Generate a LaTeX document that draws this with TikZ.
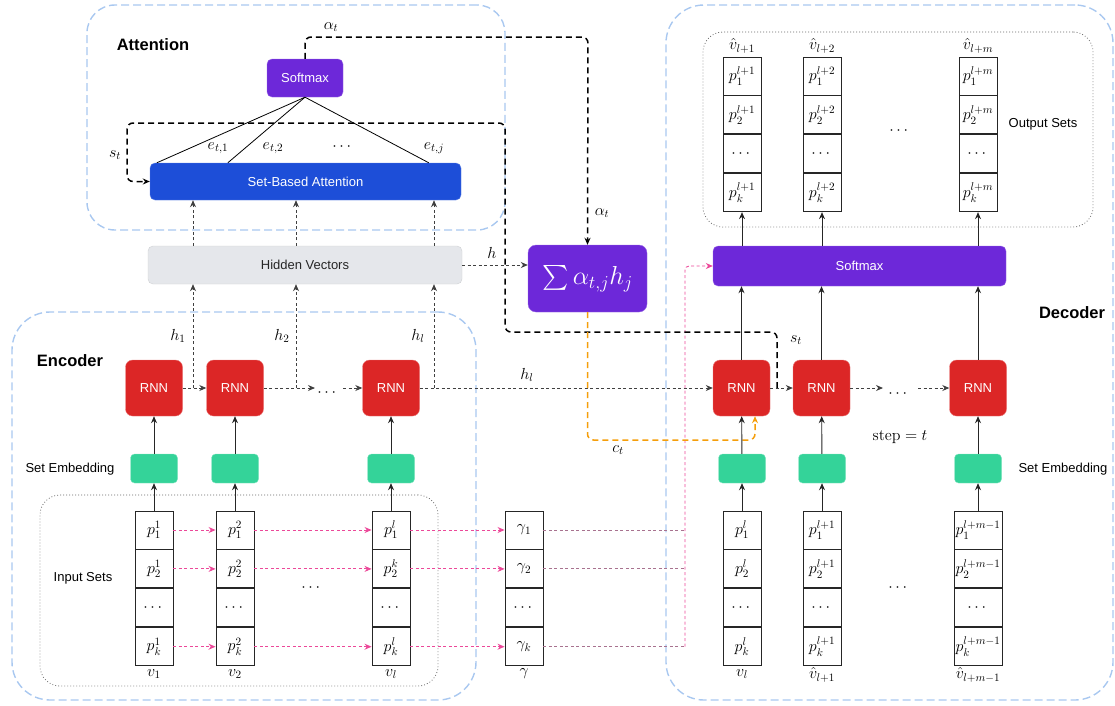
\RequirePackage{fix-cm}
\documentclass[tikz,border=0pt]{standalone}
\usepackage{amsmath}
\usepackage[no-math]{fontspec}
\newfontfamily\arial{Liberation Sans}
\usetikzlibrary{arrows.meta,calc}

\definecolor{smpurple}{HTML}{6D28D9}
\definecolor{sbablue}{HTML}{1D4ED8}
\definecolor{hvgray}{HTML}{E5E7EB}
\definecolor{rnnred}{HTML}{DC2626}
\definecolor{embgreen}{HTML}{34D399}
\definecolor{grpblue}{HTML}{A9C8F0}
\definecolor{pinkc}{HTML}{EC4899}
\definecolor{mauvec}{HTML}{A8728F}
\definecolor{orangec}{HTML}{F59E0B}

\newcommand\setcolumn[7]{%
  \node[cell, minimum width=#4] (#1-1) at (#2,#3) {$#5$};
  \node[cell, minimum width=#4, anchor=north] (#1-2) at (#1-1.south) {$#6$};
  \node[cell, minimum width=#4, anchor=north] (#1-3) at (#1-2.south) {$\cdots$};
  \node[cell, minimum width=#4, anchor=north] (#1-4) at (#1-3.south) {$#7$};
}

\tikzset{
  lbl/.style={font=\arial\fontsize{13}{15}\selectfont, text=black, inner sep=1pt},
  ttl/.style={font=\arial\bfseries\fontsize{16.5}{19}\selectfont, inner sep=1pt},
  mth/.style={font=\fontsize{16}{18}\selectfont, inner sep=1pt},
  boxbase/.style={rounded corners=5pt, inner sep=0pt, font=\arial\fontsize{13}{15}\selectfont},
  purplebox/.style={boxbase, fill=smpurple, draw=smpurple!70!white, text=white},
  sbabox/.style={boxbase, fill=sbablue, draw=sbablue!70!white, text=white},
  hvbox/.style={boxbase, fill=hvgray, draw=hvgray!90!black, text=black!85},
  rnnbox/.style={boxbase, rounded corners=7pt, fill=rnnred, draw=rnnred!60!white, text=white, minimum width=57pt, minimum height=56pt},
  embbox/.style={boxbase, rounded corners=4pt, fill=embgreen, draw=embgreen!60!white, minimum width=47pt, minimum height=29pt},
  cell/.style={draw=black!85, line width=0.9pt, minimum height=38pt, inner sep=0pt, font=\fontsize{16}{18}\selectfont},
  grp/.style={draw=grpblue, line width=1.4pt, dash pattern=on 8pt off 4pt, rounded corners=38pt, inner sep=0pt},
  setgrp/.style={draw=black!60, line width=0.8pt, dash pattern=on 0.8pt off 2.2pt, rounded corners=20pt, inner sep=0pt},
  tip/.style={-{Stealth[length=7pt,width=6pt]}},
  arr/.style={draw=black!85, line width=0.9pt, tip},
  darr/.style={draw=black!75, line width=0.9pt, dash pattern=on 3pt off 2.5pt, tip},
  bdash/.style={draw=black, line width=1.5pt, dash pattern=on 6pt off 4pt, rounded corners=6pt},
  parr/.style={draw=pinkc, line width=0.9pt, dash pattern=on 3pt off 2.5pt, tip},
  gline/.style={draw=mauvec, line width=0.9pt, dash pattern=on 3pt off 2.5pt},
  odash/.style={draw=orangec, line width=1.5pt, dash pattern=on 6pt off 4pt, rounded corners=6pt},
  eline/.style={draw=black, line width=0.8pt},
}

\begin{document}
\begin{tikzpicture}[x=1pt,y=-1pt]
\useasboundingbox (0,0) rectangle (1115,705);

% group boxes
\node[grp, minimum width=418pt, minimum height=225pt, rounded corners=28pt] (attgrp) at (296,117.5) {};
\node[grp, minimum width=464pt, minimum height=388pt] (encgrp) at (244,506) {};
\node[grp, minimum width=447pt, minimum height=695pt] (decgrp) at (889.5,352.5) {};
\node[setgrp, minimum width=398pt, minimum height=191pt] (insets) at (239,590.5) {};
\node[setgrp, minimum width=390pt, minimum height=195pt] (outsets) at (898,129.5) {};

% titles and labels
\node[ttl] (atttitle) at (153,45) {Attention};
\node[ttl] (enctitle) at (70,361) {Encoder};
\node[ttl] (dectitle) at (1072,313) {Decoder};
\node[lbl] (inlbl) at (83,578) {Input Sets};
\node[lbl] (outlbl) at (1043,124) {Output Sets};
\node[lbl] (embl1) at (70,469) {Set Embedding};
\node[lbl] (embl2) at (1063,469) {Set Embedding};

% main boxes
\node[purplebox, minimum width=76pt, minimum height=38pt] (smx) at (305,78) {Softmax};
\node[sbabox, minimum width=311pt, minimum height=37pt] (sba) at (305.5,181.5) {Set-Based Attention};
\node[hvbox, minimum width=314pt, minimum height=38pt] (hv) at (305,265) {Hidden Vectors};
\node[purplebox, rounded corners=8pt, minimum width=119pt, minimum height=67pt, font=\fontsize{26}{30}\selectfont] (sum) at (587.5,278.5) {$\sum \alpha_{t,j} h_j$};
\node[purplebox, minimum width=293pt, minimum height=40pt] (dsm) at (859.5,266) {Softmax};

% encoder
\node[rnnbox] (er1) at (154,388) {RNN};
\node[rnnbox] (er2) at (235,388) {RNN};
\node[rnnbox] (er3) at (391,388) {RNN};
\node[embbox] (ee1) at (154,468.5) {};
\node[embbox] (ee2) at (235,468.5) {};
\node[embbox] (ee3) at (391,468.5) {};
\setcolumn{ic1}{154}{530}{38pt}{p_1^1}{p_2^1}{p_k^1}
\setcolumn{ic2}{235}{530}{38pt}{p_1^2}{p_2^2}{p_k^2}
\setcolumn{ic3}{391}{530}{38pt}{p_1^l}{p_2^k}{p_k^l}
\setcolumn{g}{524}{530}{38pt}{\gamma_1}{\gamma_2}{\gamma_k}
\node[mth] (v1l) at (154,674) {$v_1$};
\node[mth] (v2l) at (235,674) {$v_2$};
\node[mth] (vll) at (391,674) {$v_l$};
\node[mth] (gl) at (524,674) {$\gamma$};
\node[mth] (edots) at (312,588) {$\cdots$};

% decoder
\node[rnnbox] (dr1) at (741.5,388) {RNN};
\node[rnnbox] (dr2) at (821.5,388) {RNN};
\node[rnnbox] (dr3) at (978,388) {RNN};
\node[embbox] (de1) at (742,468.5) {};
\node[embbox] (de2) at (822,468.5) {};
\node[embbox] (de3) at (978,468.5) {};
\setcolumn{dc1}{742}{530}{38pt}{p_1^l}{p_2^l}{p_k^l}
\setcolumn{dc2}{822}{530}{38pt}{p_1^{l+1}}{p_2^{l+1}}{p_k^{l+1}}
\setcolumn{dc3}{978}{530}{48pt}{p_1^{l+m-1}}{p_2^{l+m-1}}{p_k^{l+m-1}}
\node[mth] (dv1) at (742,674) {$v_l$};
\node[mth] (dv2) at (822,675) {$\hat{v}_{l+1}$};
\node[mth] (dv3) at (978,675) {$\hat{v}_{l+m-1}$};
\node[mth] (ddots) at (899,588) {$\cdots$};

\setcolumn{oc1}{742}{76}{38pt}{p_1^{l+1}}{p_2^{l+1}}{p_k^{l+1}}
\setcolumn{oc2}{822}{76}{38pt}{p_1^{l+2}}{p_2^{l+2}}{p_k^{l+2}}
\setcolumn{oc3}{978}{76}{38pt}{p_1^{l+m}}{p_2^{l+m}}{p_k^{l+m}}
\node[mth] (ov1) at (742,46) {$\hat{v}_{l+1}$};
\node[mth] (ov2) at (822,46) {$\hat{v}_{l+2}$};
\node[mth] (ov3) at (978,46) {$\hat{v}_{l+m}$};
\node[mth] (odots) at (900,131) {$\cdots$};

\node[mth] (steplbl) at (900,437) {$\mathrm{step} = t$};

% encoder connectors
\foreach \i in {1,2,3} {
  \draw[arr] (ic\i-1.north) -- (ee\i.south);
  \draw[arr] (ee\i) -- (er\i);
}
\coordinate (edl) at (315,388);
\coordinate (edr) at (343,388);
\node[mth] (erdots) at (328,393) {$\cdots$};
\draw[darr] (er1) -- (er2);
\draw[darr] (er2) -- (edl);
\draw[darr] (edr) -- (er3);
\draw[darr] (er3) -- (dr1);
\node[mth] (hllbl) at (527,375) {$h_l$};

\coordinate (h1b) at (193,388);
\coordinate (h2b) at (296,388);
\coordinate (h3b) at (434,388);
\draw[darr] (h1b) -- (h1b |- hv.south);
\draw[darr] (h2b) -- (h2b |- hv.south);
\draw[darr] (h3b) -- (h3b |- hv.south);
\node[mth] (h1lbl) at (178,336) {$h_1$};
\node[mth] (h2lbl) at (282,336) {$h_2$};
\node[mth] (h3lbl) at (418,336) {$h_l$};
\draw[darr] (hv.north -| h1b) -- (sba.south -| h1b);
\draw[darr] (hv.north -| h2b) -- (sba.south -| h2b);
\draw[darr] (hv.north -| h3b) -- (sba.south -| h3b);

\draw[darr] (hv.east) -- (hv.east -| sum.west);
\node[mth] (hlbl) at (492,253) {$h$};

% softmax to set-based attention
\draw[eline] (smx.south) -- ([xshift=7pt]sba.north west);
\draw[eline] (smx.south) -- ([xshift=78pt]sba.north west);
\draw[eline] (smx.south) -- ([xshift=279pt]sba.north west);
\node[mth] (e1l) at (218,148) {$e_{t,1}$};
\node[mth] (e2l) at (273,148) {$e_{t,2}$};
\node[mth] (e3l) at (343,147) {$\cdots$};
\node[mth] (e4l) at (434,148) {$e_{t,j}$};

% pink input connectors
\foreach \r in {1,2,4} {
  \draw[parr] (ic1-\r) -- (ic2-\r);
  \draw[parr] (ic2-\r) -- (ic3-\r);
  \draw[parr] (ic3-\r) -- (g-\r);
}
\coordinate (gup) at (685,266);
\foreach \r in {1,2,4} {
  \draw[gline] (g-\r.east) -- (g-\r.east -| gup);
}
\draw[parr, rounded corners=4pt] (g-4.east -| gup) -- (gup) -- (dsm.west);

% alpha_t
\coordinate (al) at (588,37);
\draw[bdash, tip] (smx.north) |- (al) -- (sum.north);
\node[mth] (al1) at (331,27) {$\alpha_t$};
\node[mth] (al2) at (602,213) {$\alpha_t$};

% s_t
\coordinate (st0) at (777,388);
\coordinate (st1) at (505,332);
\coordinate (st2) at (127,123);
\draw[bdash, tip] (st0) |- (st1) |- (st2) |- (sba.west);
\node[mth] (st1l) at (115,155) {$s_t$};
\node[mth] (st2l) at (796,340) {$s_t$};

% c_t
\coordinate (ct) at (755,440);
\draw[odash, tip] (sum.south) |- (ct) -- (ct |- dr1.south);
\node[mth] (ctl) at (618,450) {$c_t$};

% decoder connectors
\foreach \i in {1,2,3} {
  \draw[arr] (dc\i-1.north) -- (de\i.south);
  \draw[arr] (de\i) -- (dr\i);
  \draw[arr] (dr\i.north) -- (dsm.south -| dr\i);
  \draw[arr] (dsm.north -| oc\i-4) -- (oc\i-4.south);
}
\coordinate (ddl) at (883,388);
\coordinate (ddr) at (918,388);
\node[mth] (drdots) at (899,394) {$\cdots$};
\draw[darr] (dr1) -- (dr2);
\draw[darr] (dr2) -- (ddl);
\draw[darr] (ddr) -- (dr3);
\end{tikzpicture}
\end{document}
